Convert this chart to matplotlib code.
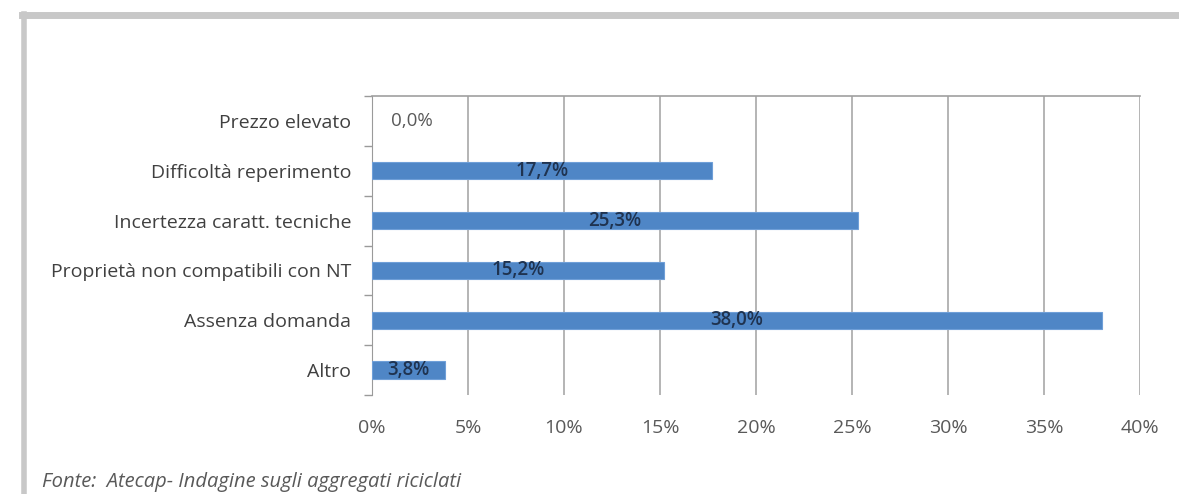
import matplotlib.pyplot as plt
from matplotlib.lines import Line2D

# data (top to bottom)
categories = ['Prezzo elevato', 'Difficoltà reperimento', 'Incertezza caratt. tecniche',
              'Proprietà non compatibili con NT', 'Assenza domanda', 'Altro']
values = [0.0, 17.7, 25.3, 15.2, 38.0, 3.8]
xticks = [0, 5, 10, 15, 20, 25, 30, 35, 40]

plt.rcParams['font.family'] = ['Open Sans', 'DejaVu Sans']

W, H = 1179, 494
fig = plt.figure(figsize=(W / 100, H / 100), dpi=100)
fig.patch.set_facecolor('white')

# plot area in pixel coordinates
x0, x1 = 372, 1140
y0, y1 = 96, 395
ax = fig.add_axes([x0 / W, 1 - y1 / H, (x1 - x0) / W, (y1 - y0) / H])

n = len(categories)
pos = list(range(n))[::-1]
ax.barh(pos, values, height=0.35, color='#4f86c6', edgecolor='#6f9fd8',
        linewidth=[0.8 if v > 0 else 0 for v in values], zorder=3)
ax.set_ylim(-0.5, n - 0.5)
ax.set_xlim(0, 40)

ax.set_xticks(xticks)
ax.set_xticklabels([f'{t}%' for t in xticks])
ax.set_yticks(pos)
ax.set_yticklabels(categories)
ax.set_yticks([p - 0.5 for p in range(n + 1)], minor=True)
ax.tick_params(axis='y', which='major', length=0, pad=15, labelsize=14, labelcolor='#404040')
ax.tick_params(axis='y', which='minor', length=6, color='#9a9a9a', width=1)
ax.tick_params(axis='x', length=0, pad=17, labelsize=14, labelcolor='#595959')

ax.grid(axis='x', color='#a8a8a8', linewidth=1.2, zorder=0)
for s in ['right', 'bottom']:
    ax.spines[s].set_visible(False)
ax.spines['left'].set_color('#9a9a9a')
ax.spines['top'].set_color('#a0a0a0')
ax.spines['top'].set_linewidth(1.2)

for p, v in zip(pos, values):
    label = f'{v:.1f}%'.replace('.', ',')
    if v == 0:
        ax.text(1.0, p, label, ha='left', va='center', fontsize=13.5, color='#595959')
    else:
        ax.text(v / 2, p, label, ha='center', va='center', fontsize=13.5,
                color='#1f3350', fontweight='semibold', zorder=4)

# gray frame around the chart (top and left edges visible)
fig.add_artist(Line2D([24 / W, 24 / W], [1 - 14 / H, 0], color='#c8c8c8', linewidth=4))
fig.add_artist(Line2D([22 / W, 1], [1 - 15 / H, 1 - 15 / H], color='#c8c8c8', linewidth=5))

fig.text(42 / W, 1 - 482 / H, 'Fonte:  Atecap- Indagine sugli aggregati riciclati',
         fontsize=14.5, style='italic', color='#595959', va='center')

fig.savefig('out.png', dpi=100)
